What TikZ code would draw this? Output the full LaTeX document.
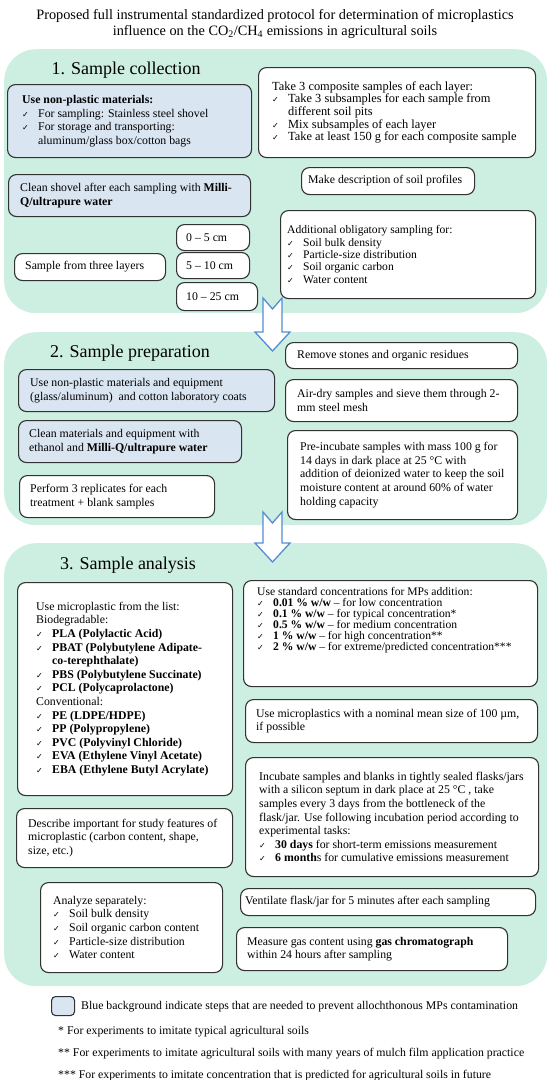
\documentclass[tikz,border=0pt]{standalone}
\usepackage{fontspec}
\setmainfont{Liberation Serif}
\newfontfamily\symf{DejaVu Sans}
\definecolor{secgreen}{RGB}{204,239,226}
\definecolor{bluebox}{RGB}{218,229,242}
\definecolor{bord}{RGB}{50,50,50}
\definecolor{arrblue}{RGB}{84,141,212}
\newcommand\bodyf{\fontsize{11.8}{13.6}\selectfont}
\newcommand\ckm{\makebox[16pt][l]{{\symf\fontsize{8}{8}\selectfont ✓}}}
\newcommand\ind{\hspace*{16pt}}
\newcommand\bx[8]{\node[bxs,#6,minimum width=#4pt,minimum height=#5pt] (#1) at (#2,#3) {};
  \node[bxt,#6] (#1t) at ([xshift=#7pt]#1.west) {#8};}
\tikzset{
  sec/.style={fill=secgreen, rounded corners=32pt, anchor=north west, inner sep=0pt},
  bxs/.style={draw=bord, line width=1.1pt, rounded corners=8pt, fill=white, anchor=north west, inner sep=0pt},
  bxt/.style={anchor=west, align=left, inner sep=0pt, font=\bodyf},
  blue/.style={fill=bluebox},
  hdr/.style={font=\fontsize{18}{20}\selectfont},
  bigarrow/.style={draw=arrblue, line width=1.3pt, fill=white, line join=miter},
  foot/.style={anchor=west, inner sep=0pt, font=\bodyf}
}
\begin{document}
\begin{tikzpicture}[x=1pt,y=-1pt]
\useasboundingbox (0,0) rectangle (550,1080);
\node[align=center, font=\fontsize{14.3}{16}\selectfont] (title) at (275,24) {Proposed full instrumental standardized protocol for determination of microplastics\\influence on the CO\textsubscript{2}/CH\textsubscript{4} emissions in agricultural soils};

% section backgrounds
\node[sec, minimum width=543pt, minimum height=264pt] (s1) at (4,49) {};
\node[sec, minimum width=543pt, minimum height=193pt] (s2) at (4,332) {};
\node[sec, minimum width=543pt, minimum height=443pt] (s3) at (4,543) {};

\node[hdr] (h1) at (126,70) {1. Sample collection};
\node[hdr] (h2) at (130,353) {2. Sample preparation};
\node[hdr] (h3) at (128,565) {3. Sample analysis};

% section 1
\bx{a1}{7}{84}{244}{73}{blue}{15}{\textbf{Use non-plastic materials:}\\\ckm For sampling: Stainless steel shovel\\\ckm For storage and transporting:\\\ind aluminum/glass box/cotton bags}
\bx{a2}{8}{174}{242}{42}{blue}{12}{Clean shovel after each sampling with \textbf{Milli-}\\\textbf{Q/ultrapure water}}
\bx{l1}{176}{224}{73}{26}{}{10}{0 – 5 cm}
\bx{l2}{176}{252}{73}{26}{}{10}{5 – 10 cm}
\bx{l3}{176}{282}{81}{28}{}{10}{10 – 25 cm}
\bx{a3}{14}{253}{151}{27}{}{11}{Sample from three layers}
\bx{a4}{258}{67}{277}{90}{font=\fontsize{12.4}{12.6}\selectfont}{14}{Take 3 composite samples of each layer:\\\ckm Take 3 subsamples for each sample from\\\ind different soil pits\\\ckm Mix subsamples of each layer\\\ckm Take at least 150 g for each composite sample}
\bx{a5}{301}{167}{173}{27}{}{7}{Make description of soil profiles}
\bx{a6}{280}{210}{255}{88}{font=\fontsize{11.6}{12.4}\selectfont}{7}{Additional obligatory sampling for:\\\ckm Soil bulk density\\\ckm Particle-size distribution\\\ckm Soil organic carbon\\\ckm Water content}

% section 2
\bx{b1}{18}{369}{256}{42}{blue}{12}{Use non-plastic materials and equipment\\(glass/aluminum)\ \ and cotton laboratory coats}
\bx{b2}{18}{420}{223}{42}{blue}{11}{Clean materials and equipment with\\ethanol and \textbf{Milli-Q/ultrapure water}}
\bx{b3}{19}{475}{195}{42}{}{11}{Perform 3 replicates for each\\treatment + blank samples}
\bx{b4}{285}{342}{232}{26}{}{12}{Remove stones and organic residues}
\bx{b5}{285}{379}{232}{42}{}{12}{Air-dry samples and sieve them through 2-\\mm steel mesh}
\bx{b6}{287}{430}{230}{89}{}{13}{Pre-incubate samples with mass 100 g for\\14 days in dark place at 25 °C with\\addition of deionized water to keep the soil\\moisture content at around 60\% of water\\holding capacity}

% section 3
\bx{c1}{17}{582}{215}{213}{}{19}{Use microplastic from the list:\\Biodegradable:\\\ckm\textbf{PLA (Polylactic Acid)}\\\ckm\textbf{PBAT (Polybutylene Adipate-}\\\ind\textbf{co-terephthalate)}\\\ckm\textbf{PBS (Polybutylene Succinate)}\\\ckm\textbf{PCL (Polycaprolactone)}\\Conventional:\\\ckm\textbf{PE (LDPE/HDPE)}\\\ckm\textbf{PP (Polypropylene)}\\\ckm\textbf{PVC (Polyvinyl Chloride)}\\\ckm\textbf{EVA (Ethylene Vinyl Acetate)}\\\ckm\textbf{EBA (Ethylene Butyl Acrylate)}}
\node[bxs, minimum width=294pt, minimum height=106pt] (c2) at (243,580) {};
\node[bxt, font=\fontsize{11.6}{11}\selectfont, anchor=north west] (c2t) at ([xshift=14pt,yshift=-7pt]c2.north west) {Use standard concentrations for MPs addition:\\\ckm\textbf{0.01 \% w/w} – for low concentration\\\ckm\textbf{0.1 \% w/w} – for typical concentration*\\\ckm\textbf{0.5 \% w/w} – for medium concentration\\\ckm\textbf{1 \% w/w} – for high concentration**\\\ckm\textbf{2 \% w/w} – for extreme/predicted concentration***};
\bx{c3}{245}{699}{292}{43}{}{11}{Use microplastics with a nominal mean size of 100 µm,\\if possible}
\bx{c4}{245}{757}{293}{119}{}{14}{Incubate samples and blanks in tightly sealed flasks/jars\\with a silicon septum in dark place at 25 °C , take\\samples every 3 days from the bottleneck of the\\flask/jar. Use following incubation period according to\\experimental tasks:\\\ckm\textbf{30 days} for short-term emissions measurement\\\ckm\textbf{6 month}s for cumulative emissions measurement}
\bx{c5}{16}{808}{216}{59}{}{12}{Describe important for study features of\\microplastic (carbon content, shape,\\size, etc.)}
\bx{c6}{40}{882}{182}{90}{}{13}{Analyze separately:\\\ckm Soil bulk density\\\ckm Soil organic carbon content\\\ckm Particle-size distribution\\\ckm Water content}
\bx{c7}{240}{888}{295}{27}{}{5}{Ventilate flask/jar for 5 minutes after each sampling}
\bx{c8}{236}{927}{271}{43}{}{11}{Measure gas content using \textbf{gas chromatograph}\\within 24 hours after sampling}

% arrows
\draw[bigarrow] (263,298) -- (272.5,309) -- (282,298) -- (282,332) -- (290,332) -- (272.5,351) -- (255,332) -- (263,332) -- cycle;
\draw[bigarrow] (263,512) -- (272.5,523) -- (282,512) -- (282,543) -- (290,543) -- (272.5,562) -- (255,543) -- (263,543) -- cycle;

% legend
\node[bxs, blue, rounded corners=4pt, minimum width=23pt, minimum height=19pt] (leg) at (51,996) {};
\node[foot] (legt) at (81,1007) {Blue background indicate steps that are needed to prevent allochthonous MPs contamination};
\node[foot] (f1) at (58,1032) {* For experiments to imitate typical agricultural soils};
\node[foot] (f2) at (58,1054) {** For experiments to imitate agricultural soils with many years of mulch film application practice};
\node[foot] (f3) at (58,1076) {*** For experiments to imitate concentration that is predicted for agricultural soils in future};
\end{tikzpicture}
\end{document}
